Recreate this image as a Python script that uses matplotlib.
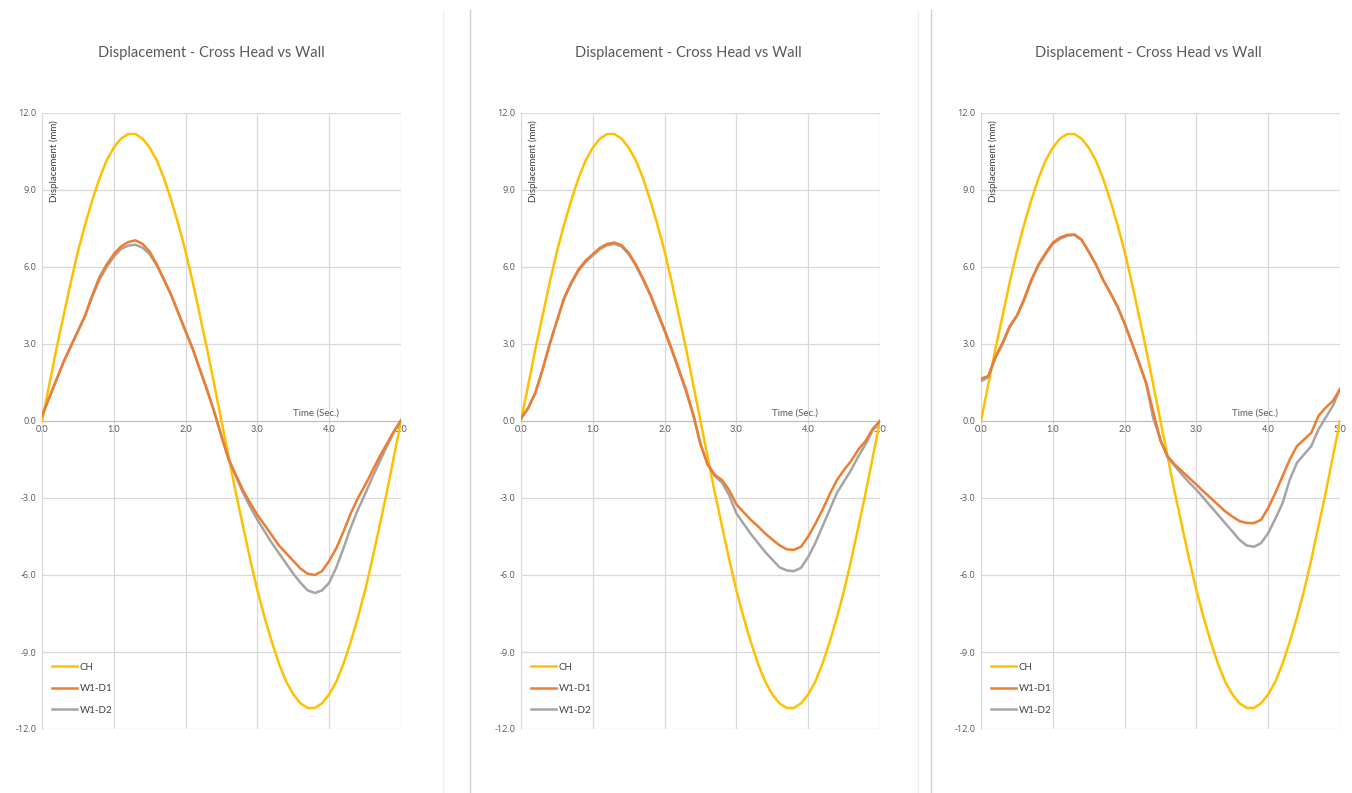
import matplotlib
matplotlib.use("Agg")
import matplotlib.pyplot as plt
from matplotlib.lines import Line2D

plt.rcParams["font.family"] = ["Lato", "DejaVu Sans"]

TIME = [0.0, 0.1, 0.2, 0.3, 0.4, 0.5, 0.6, 0.7, 0.8, 0.9,
        1.0, 1.1, 1.2, 1.3, 1.4, 1.5, 1.6, 1.7, 1.8, 1.9,
        2.0, 2.1, 2.2, 2.3, 2.4, 2.5, 2.6, 2.7, 2.8, 2.9,
        3.0, 3.1, 3.2, 3.3, 3.4, 3.5, 3.6, 3.7, 3.8, 3.9,
        4.0, 4.1, 4.2, 4.3, 4.4, 4.5, 4.6, 4.7, 4.8, 4.9, 5.0]

# cross head displacement (same in the three tests)
CH = [0.0, 1.4, 2.8, 4.1, 5.4, 6.6, 7.65, 8.6, 9.45, 10.15,
      10.65, 11.0, 11.18, 11.18, 11.0, 10.65, 10.15, 9.45, 8.6, 7.65,
      6.6, 5.4, 4.1, 2.8, 1.4, 0.0, -1.4, -2.8, -4.1, -5.4,
      -6.6, -7.65, -8.6, -9.45, -10.15, -10.65, -11.0, -11.18, -11.18, -11.0,
      -10.65, -10.15, -9.45, -8.6, -7.65, -6.6, -5.4, -4.1, -2.8, -1.4, 0.0]

# wall gauges, test 1
W1_D1_A = [0.2, 0.9, 1.6, 2.3, 2.9, 3.5, 4.1, 4.9, 5.6, 6.1,
           6.5, 6.8, 6.97, 7.04, 6.9, 6.6, 6.1, 5.5, 4.9, 4.2,
           3.5, 2.8, 2.0, 1.2, 0.35, -0.6, -1.5, -2.1, -2.7, -3.2,
           -3.66, -4.05, -4.45, -4.85, -5.15, -5.45, -5.75, -5.95, -6.0, -5.85,
           -5.45, -4.95, -4.3, -3.6, -3.0, -2.5, -1.95, -1.4, -0.9, -0.4, 0.0]
W1_D2_A = [0.2, 0.9, 1.6, 2.3, 2.9, 3.5, 4.1, 4.85, 5.5, 6.0,
           6.4, 6.7, 6.83, 6.87, 6.75, 6.5, 6.05, 5.5, 4.9, 4.2,
           3.5, 2.8, 2.0, 1.2, 0.35, -0.6, -1.5, -2.15, -2.8, -3.35,
           -3.85, -4.3, -4.75, -5.15, -5.55, -5.95, -6.3, -6.6, -6.7, -6.6,
           -6.3, -5.7, -4.95, -4.15, -3.45, -2.85, -2.2, -1.6, -1.0, -0.45, 0.05]

# test 2
W1_D1_B = [0.1, 0.5, 1.1, 2.0, 3.0, 3.9, 4.8, 5.4, 5.9, 6.25,
           6.5, 6.75, 6.9, 6.95, 6.85, 6.55, 6.1, 5.55, 4.95, 4.25,
           3.55, 2.8, 2.0, 1.2, 0.25, -0.9, -1.7, -2.1, -2.3, -2.7,
           -3.25, -3.55, -3.85, -4.1, -4.38, -4.62, -4.84, -5.0, -5.02, -4.9,
           -4.5, -4.0, -3.45, -2.85, -2.3, -1.9, -1.55, -1.1, -0.78, -0.3, 0.0]
W1_D2_B = [0.1, 0.5, 1.1, 2.0, 3.0, 3.9, 4.75, 5.35, 5.85, 6.2,
           6.45, 6.7, 6.85, 6.9, 6.8, 6.5, 6.05, 5.5, 4.9, 4.2,
           3.5, 2.75, 1.95, 1.15, 0.2, -0.9, -1.7, -2.15, -2.4, -2.9,
           -3.6, -4.0, -4.4, -4.75, -5.1, -5.4, -5.7, -5.82, -5.85, -5.72,
           -5.3, -4.75, -4.1, -3.45, -2.8, -2.35, -1.9, -1.37, -0.9, -0.35, 0.0]

# test 3
W1_D1_C = [1.65, 1.75, 2.5, 3.05, 3.7, 4.1, 4.75, 5.5, 6.1, 6.55,
           6.95, 7.15, 7.25, 7.27, 7.07, 6.6, 6.1, 5.5, 5.0, 4.47,
           3.8, 3.05, 2.27, 1.5, 0.35, -0.78, -1.37, -1.7, -1.96, -2.22,
           -2.48, -2.75, -3.0, -3.26, -3.52, -3.72, -3.9, -3.97, -3.98, -3.85,
           -3.39, -2.8, -2.15, -1.5, -0.98, -0.72, -0.46, 0.2, 0.52, 0.78, 1.24]
W1_D2_C = [1.55, 1.7, 2.45, 3.0, 3.65, 4.1, 4.7, 5.45, 6.05, 6.5,
           6.9, 7.1, 7.22, 7.25, 7.05, 6.6, 6.1, 5.5, 5.0, 4.45,
           3.8, 3.05, 2.27, 1.45, 0.1, -0.72, -1.43, -1.75, -2.09, -2.4,
           -2.68, -3.0, -3.33, -3.65, -3.98, -4.3, -4.63, -4.85, -4.9, -4.76,
           -4.37, -3.8, -3.2, -2.29, -1.63, -1.3, -0.98, -0.33, 0.13, 0.59, 1.24]

PANELS = [(W1_D1_A, W1_D2_A), (W1_D1_B, W1_D2_B), (W1_D1_C, W1_D2_C)]
X_TICKS = [0.0, 1.0, 2.0, 3.0, 4.0, 5.0]
Y_TICKS = [-12.0, -9.0, -6.0, -3.0, 0.0, 3.0, 6.0, 9.0, 12.0]

TITLE = "Displacement - Cross Head vs Wall"
COL_CH = "#FFC000"
COL_D1 = "#ED7D31"
COL_D2 = "#A5A5A5"
GRID = "#D9D9D9"
TXT = "#595959"

W, H = 1352, 793
fig = plt.figure(figsize=(W / 100, H / 100), dpi=100)

ax_left = [42, 521, 981]
ax_w = 359
title_x = [211, 688, 1148]
top, bot = 113, 729

for i, (d1, d2) in enumerate(PANELS):
    ax = fig.add_axes([ax_left[i] / W, 1 - bot / H, ax_w / W, (bot - top) / H])
    ax.plot(TIME, CH, color=COL_CH, lw=1.8, label="CH", zorder=3)
    ax.plot(TIME, d1, color=COL_D1, lw=1.8, label="W1-D1", zorder=4)
    ax.plot(TIME, d2, color=COL_D2, lw=1.8, label="W1-D2", zorder=3.5)

    ax.set_xlim(0, 5)
    ax.set_ylim(-12, 12)
    ax.set_xticks(X_TICKS)
    ax.set_yticks(Y_TICKS)
    ax.set_xticklabels([f"{v:.1f}" for v in X_TICKS])
    ax.set_yticklabels([f"{v:.1f}" for v in Y_TICKS])
    for lab in ax.get_xticklabels() + ax.get_yticklabels():
        lab.set_family(["Open Sans", "DejaVu Sans"])
    ax.grid(True, color=GRID, lw=0.9)
    ax.set_axisbelow(True)
    ax.tick_params(length=0, labelsize=6.6, labelcolor=TXT, pad=4)
    ax.tick_params(axis="x", pad=3)
    for s in ("top", "right"):
        ax.spines[s].set_visible(False)
    ax.spines["left"].set_color(GRID)
    ax.spines["bottom"].set_position(("data", 0))
    ax.spines["bottom"].set_color("#BFBFBF")
    ax.spines["bottom"].set_zorder(1)

    ax.text(0.034, 0.988, "Displacement (mm)", transform=ax.transAxes,
            rotation=90, ha="center", va="top", fontsize=7, color="#404040")
    ax.text(3.82, 0.12, "Time (Sec.)", ha="center", va="bottom",
            fontsize=7, color=TXT)
    ax.legend(loc="lower left", bbox_to_anchor=(0.01, 0.012), frameon=False,
              fontsize=7, handlelength=2.5, handletextpad=0.3,
              labelspacing=1.3, borderaxespad=0.3, labelcolor="#404040")

    fig.text(title_x[i] / W, 1 - 53 / H, TITLE, ha="center", va="center",
             fontsize=10.5, color=TXT)

# panel separators
for x, c in [(443, "#F0F0F0"), (470, "#D0D0D0"), (918, "#F0F0F0"), (931, "#D0D0D0")]:
    fig.add_artist(Line2D([x / W, x / W], [0, 1 - 10 / H],
                          transform=fig.transFigure, color=c, lw=1))

fig.savefig("out.png", dpi=100, facecolor="white")
